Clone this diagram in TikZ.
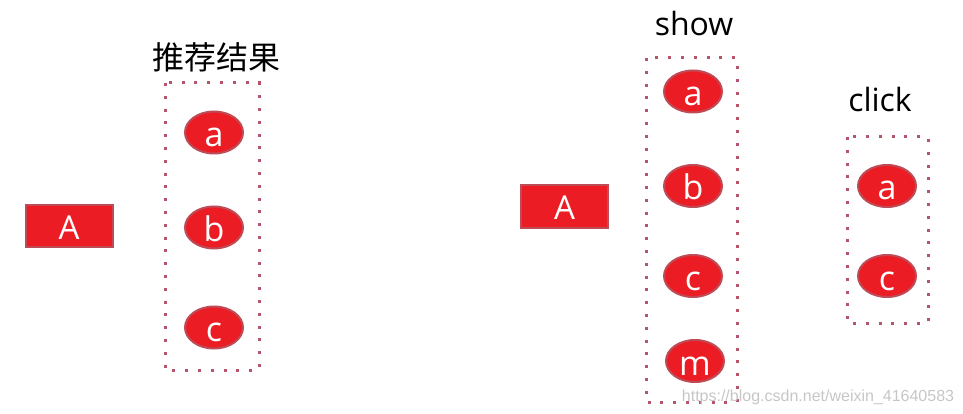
\documentclass[tikz,border=0pt]{standalone}
\usepackage{fontspec}
\setmainfont{Open Sans}
\newfontfamily\cjkfont{Noto Sans CJK SC}
\newfontfamily\wmfont{Liberation Sans}
\usetikzlibrary{shapes.geometric}
\definecolor{itemred}{HTML}{EC1C24}
\definecolor{itemedge}{HTML}{BE4B55}
\definecolor{dotrose}{HTML}{B5546A}
\tikzset{
  item/.style={ellipse, fill=itemred, draw=itemedge, line width=2pt,
    minimum width=58pt, minimum height=42pt, inner sep=0pt,
    text=white, font=\fontsize{34}{34}\selectfont, text height=28pt, text depth=0pt},
  user/.style={rectangle, fill=itemred, draw=itemedge, line width=2pt,
    minimum width=87pt, minimum height=42pt, inner sep=0pt,
    text=white, font=\fontsize{33}{33}\selectfont, text height=26pt, text depth=0pt},
  group/.style={draw=dotrose, line width=3pt, dash pattern=on 3pt off 9.8pt},
  title/.style={font=\fontsize{32}{32}\selectfont, text=black, inner sep=0pt},
}
\begin{document}
\begin{tikzpicture}[x=1pt,y=-1pt]
\useasboundingbox (0,0) rectangle (963,414);
% left panel
\node[user] (A1) at (69,226) {A};
\node[title, font=\cjkfont\fontsize{32}{32}\selectfont] (t1) at (216,57) {推荐结果};
\node[item] (a1) at (214,132.5) {a};
\node[item] (b1) at (214,227.5) {b};
\node[item] (c1) at (214,327.5) {c};
\draw[group] (165,83) rectangle (259,370);
% right panel
\node[user] (A2) at (564.5,206.5) {A};
\node[title, anchor=base] (t2) at (694,36) {show};
\node[item] (a2) at (693,91.5) {a};
\node[item] (b2) at (693,186) {b};
\node[item] (c2) at (693,276) {c};
\node[item] (m2) at (695,361) {m};
\draw[group] (646,58) rectangle (737,402);
\node[title, anchor=base] (t3) at (880,112) {click};
\node[item] (a3) at (887,186) {a};
\node[item] (c3) at (887,276) {c};
\draw[group] (847,137) rectangle (928,323);
% watermark
\node[font=\wmfont\fontsize{16}{16}\selectfont, text=gray!45, inner sep=0pt] (wm) at (818,397) {https://blog.csdn.net/weixin\_41640583};
\end{tikzpicture}
\end{document}
